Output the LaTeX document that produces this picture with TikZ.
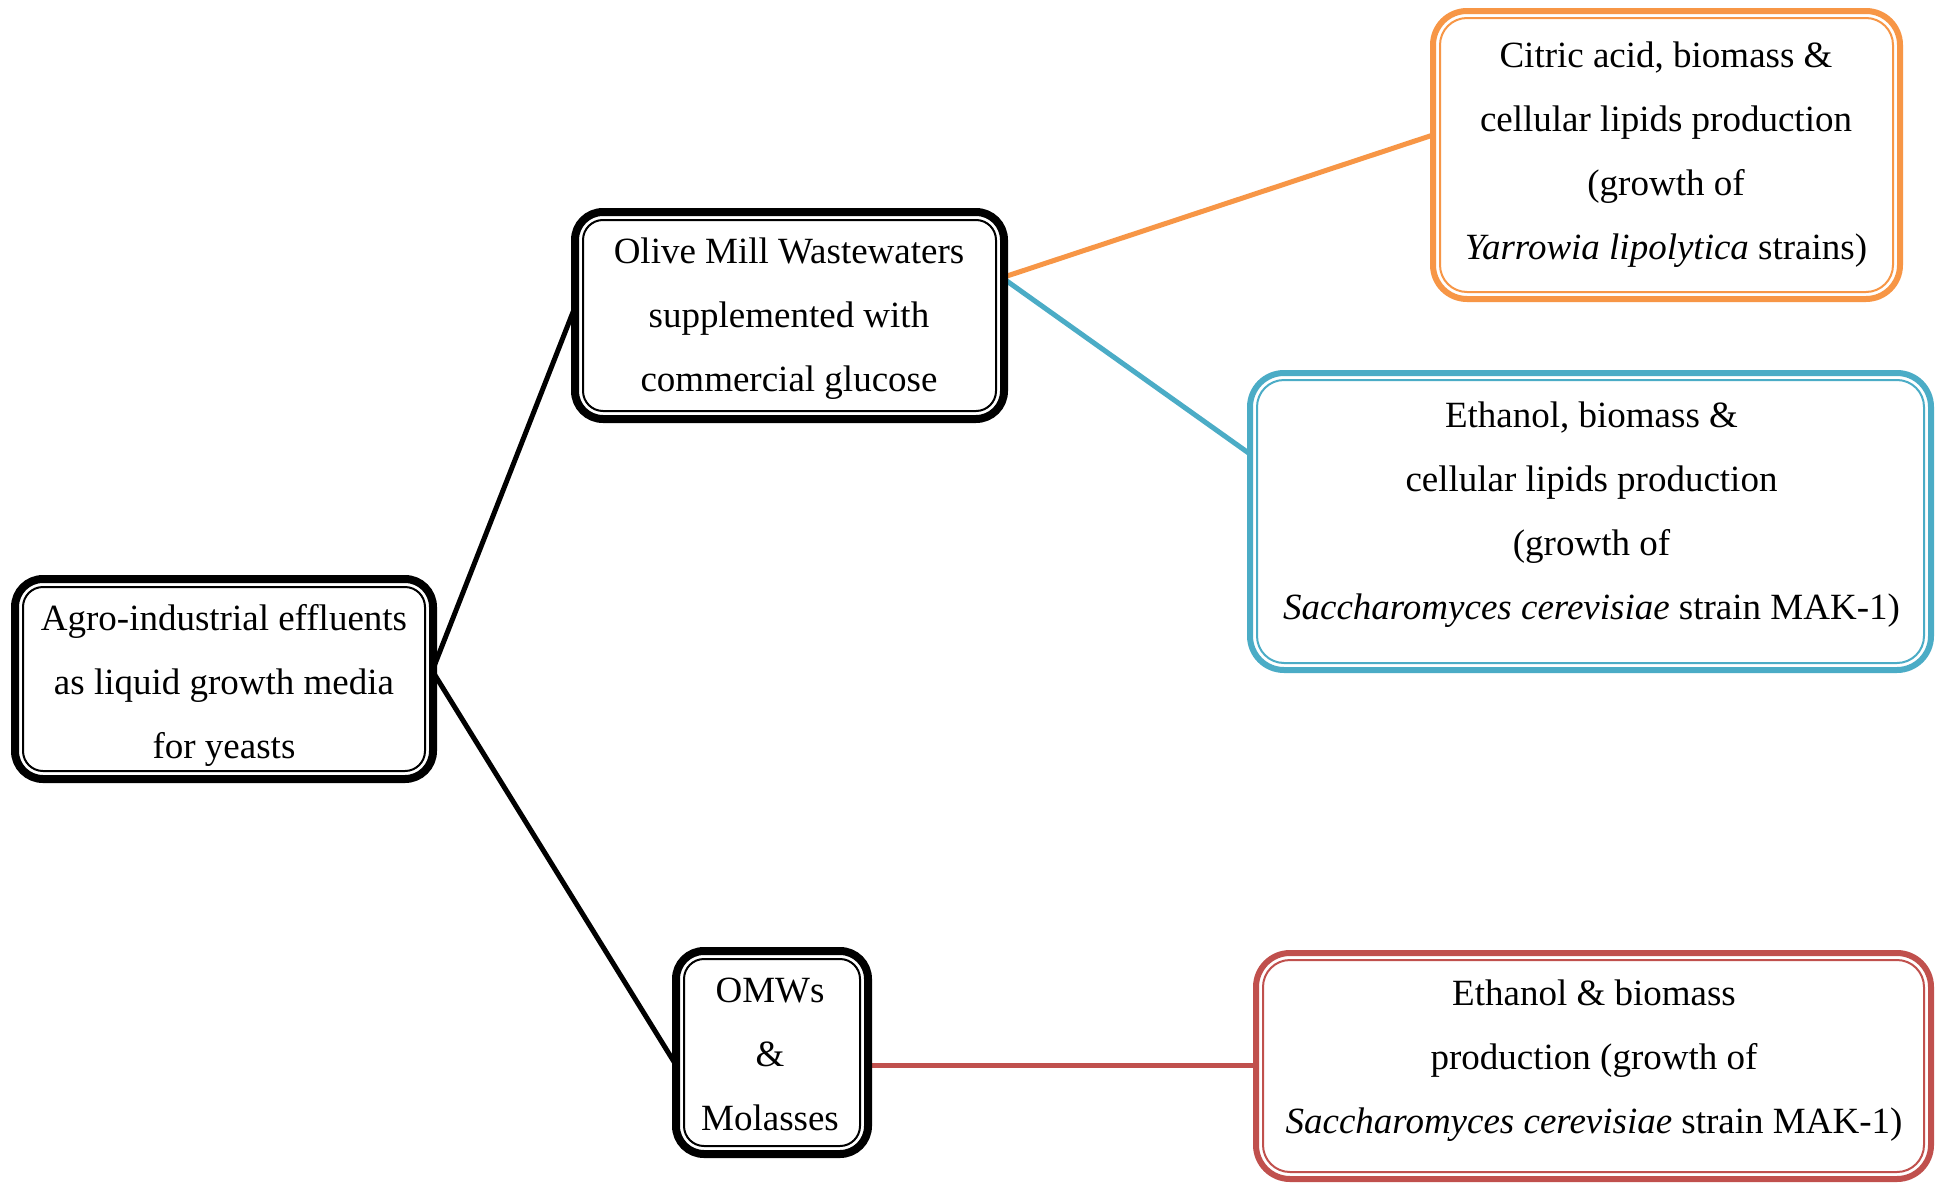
\documentclass[tikz,border=0pt]{standalone}
\usepackage{fontspec}
\setmainfont{Liberation Serif}
\usetikzlibrary{backgrounds}
\definecolor{omworange}{HTML}{F79646}
\definecolor{omwblue}{HTML}{4BACC6}
\definecolor{omwred}{HTML}{C0504D}
\tikzset{
  boxframe/.style={draw=#1, fill=white, outer sep=0pt, inner sep=0pt},
  blackframe/.style={boxframe=black, line width=8pt, rounded corners=28pt},
  colframe/.style={boxframe=#1, line width=6pt, rounded corners=34pt},
  innerline/.style={draw=#1, line width=2pt},
  boxtext/.style={align=center, inner sep=0pt, font=\fontsize{37}{64}\selectfont},
  connector/.style={draw=#1, line width=5pt},
}
\begin{document}
\begin{tikzpicture}[x=1pt, y=-1pt]
\useasboundingbox (0,0) rectangle (1939,1183);

% frames
\node[blackframe, minimum width=418pt, minimum height=200pt] (agro) at (224,679) {};
\node[blackframe, minimum width=429pt, minimum height=207pt] (omw) at (789.5,315.5) {};
\node[blackframe, minimum width=192pt, minimum height=203pt] (mix) at (772,1052.5) {};
\node[colframe=omworange, minimum width=467pt, minimum height=288pt] (citric) at (1666.5,155) {};
\node[colframe=omwblue, minimum width=681pt, minimum height=297pt] (ethlip) at (1590.5,521.5) {};
\node[colframe=omwred, minimum width=675pt, minimum height=226pt] (ethbio) at (1593.5,1066) {};

% inner thin lines of the double frames
\foreach \n/\c/\i/\r in {agro/black/8/20, omw/black/8/20, mix/black/8/20,
                         citric/omworange/7/27, ethlip/omwblue/7/27, ethbio/omwred/7/27}
  \draw[innerline=\c, rounded corners=\r pt]
    ([shift={(\i,\i)}]\n.north west) rectangle ([shift={(-\i,-\i)}]\n.south east);

% texts
\node[boxtext] (agro-t) at (224,685) {Agro-industrial effluents\\as liquid growth media\\for yeasts};
\node[boxtext] (omw-t) at (789,319) {Olive Mill Wastewaters\\supplemented with\\commercial glucose};
\node[boxtext] (mix-t) at (770,1054.5) {OMWs\\\&\\Molasses};
\node[boxtext] (citric-t) at (1666,154.5) {Citric acid, biomass \&\\cellular lipids production\\(growth of\\\textit{Yarrowia lipolytica} strains)};
\node[boxtext] (ethlip-t) at (1591.5,514.5) {Ethanol, biomass \&\\cellular lipids production\\(growth of\\\textit{Saccharomyces cerevisiae} strain MAK-1)};
\node[boxtext] (ethbio-t) at (1594,1060.5) {Ethanol \& biomass\\production (growth of\\\textit{Saccharomyces cerevisiae} strain MAK-1)};

% connectors
\begin{scope}[on background layer]
  \fill[white] (0,0) rectangle (1939,1183);
  \draw[connector=black] ([yshift=10pt]agro.east) -- ([yshift=8.5pt]omw.west);
  \draw[connector=black] ([yshift=7pt]agro.east) -- ([yshift=-12.5pt]mix.west);
  \draw[connector=omworange] ([yshift=38.5pt]omw.east) -- ([yshift=20pt]citric.west);
  \draw[connector=omwblue] ([yshift=36.5pt]omw.east) -- ([yshift=67.5pt]ethlip.west);
  \draw[connector=omwred] ([yshift=-12.5pt]mix.east) -- ([yshift=1pt]ethbio.west);
\end{scope}
\end{tikzpicture}
\end{document}
